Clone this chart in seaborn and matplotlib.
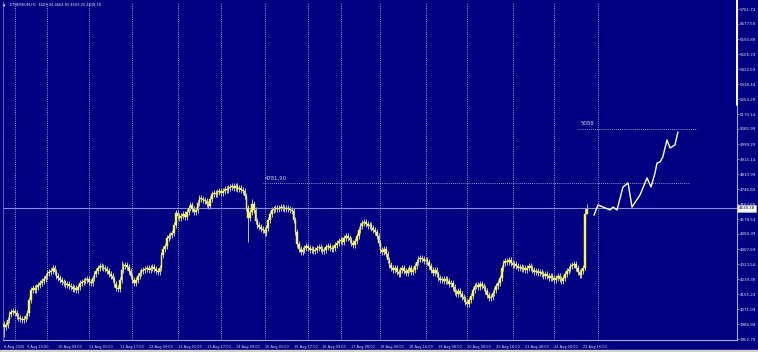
import numpy as np
import pandas as pd
import matplotlib
matplotlib.use("Agg")
import matplotlib.pyplot as plt
import matplotlib.transforms as mtransforms
from matplotlib.patches import Rectangle
import seaborn as sns

# ---------------- data ----------------
title_text = "ETHEREUM,H1  4609.94 4664.83 4609.25 4638.18"
first_open = 3990.0
closes = [
    3972, 3981, 4010, 4043, 4055, 4060, 4049, 4032, 4021, 4015,
    4010, 4015, 4032, 4049, 4123, 4179, 4190, 4179, 4196, 4207,
    4218, 4229, 4241, 4257, 4275, 4280, 4286, 4303, 4280, 4257,
    4246, 4235, 4224, 4218, 4207, 4212, 4201, 4196, 4184, 4190,
    4179, 4196, 4218, 4224, 4229, 4235, 4241, 4224, 4218, 4246,
    4269, 4286, 4303, 4314, 4308, 4303, 4298, 4286, 4269, 4257,
    4241, 4212, 4190, 4184, 4235, 4291, 4314, 4320, 4308, 4286,
    4257, 4235, 4218, 4235, 4257, 4275, 4286, 4291, 4297, 4303,
    4291, 4303, 4308, 4297, 4286, 4280, 4303, 4376, 4410, 4427,
    4472, 4483, 4489, 4500, 4545, 4613, 4596, 4585, 4596, 4607,
    4590, 4618, 4641, 4658, 4635, 4618, 4630, 4669, 4697, 4692,
    4686, 4680, 4663, 4652, 4692, 4720, 4725, 4720, 4731, 4736,
    4725, 4737, 4748, 4742, 4753, 4759, 4765, 4753, 4765, 4748,
    4753, 4742, 4737, 4708, 4641, 4585, 4618, 4663, 4630, 4567,
    4545, 4534, 4523, 4517, 4500, 4528, 4573, 4607, 4630, 4635,
    4641, 4635, 4641, 4646, 4641, 4635, 4641, 4635, 4630, 4624,
    4573, 4506, 4438, 4410, 4393, 4404, 4415, 4427, 4415, 4404,
    4410, 4399, 4404, 4415, 4421, 4410, 4399, 4404, 4421, 4427,
    4415, 4410, 4415, 4432, 4443, 4455, 4460, 4449, 4472, 4483,
    4472, 4460, 4443, 4432, 4455, 4483, 4517, 4539, 4556, 4562,
    4551, 4539, 4545, 4528, 4517, 4506, 4483, 4443, 4404, 4393,
    4410, 4382, 4348, 4320, 4303, 4291, 4303, 4280, 4269, 4291,
    4303, 4286, 4275, 4291, 4303, 4280, 4291, 4314, 4337, 4354,
    4359, 4354, 4342, 4348, 4337, 4314, 4291, 4275, 4291, 4269,
    4246, 4235, 4241, 4229, 4241, 4229, 4212, 4218, 4196, 4168,
    4156, 4173, 4156, 4140, 4128, 4111, 4100, 4123, 4145, 4179,
    4201, 4207, 4196, 4212, 4201, 4190, 4173, 4151, 4134, 4140,
    4162, 4179, 4201, 4218, 4246, 4303, 4331, 4342, 4337, 4348,
    4331, 4320, 4325, 4314, 4303, 4308, 4297, 4303, 4291, 4303,
    4314, 4303, 4291, 4280, 4286, 4275, 4280, 4269, 4257, 4269,
    4257, 4246, 4257, 4246, 4235, 4246, 4257, 4241, 4229, 4246,
    4269, 4286, 4297, 4314, 4320, 4325, 4303, 4280, 4263, 4286,
    4303, 4609.94, 4638.18,
]
typical_wick = 17  # usual hourly shadow length
wick_bars = [0, 65, 135, 137, 155, 321, 322]
wick_lows = [3914, 4290, 4449, 4600, 4630, 4290, 4609.25]
wick_highs = [3995, 4345, 4640, 4690, 4660, 4640, 4664.83]

forecast_x = [326.0, 328.2, 331.0, 334.9, 336.5, 338.7, 342.0, 344.8, 347.0,
              351.4, 355.3, 357.5, 359.7, 360.8, 362.5, 364.0, 366.3, 368.0,
              370.7, 372.4]
forecast_y = [4600, 4658, 4646, 4630, 4646, 4630, 4759, 4782, 4646,
              4714, 4810, 4759, 4838, 4894, 4900, 4928, 5024, 4979,
              4996, 5069]

price_ticks = [5761.74, 5677.59, 5590.89, 5506.74, 5422.59, 5338.44, 5254.29,
               5170.14, 5085.99, 4999.29, 4915.14, 4830.99, 4746.84, 4662.69,
               4578.54, 4494.39, 4407.69, 4323.54, 4239.39, 4155.24, 4071.09,
               3986.94, 3902.79]
time_labels = ["8 Aug 2025", "9 Aug 16:00", "10 Aug 09:00", "11 Aug 01:00",
               "11 Aug 17:00", "12 Aug 09:00", "13 Aug 01:00", "13 Aug 17:00",
               "14 Aug 09:00", "15 Aug 01:00", "15 Aug 17:00", "16 Aug 09:00",
               "17 Aug 08:00", "18 Aug 00:00", "18 Aug 16:00", "19 Aug 08:00",
               "20 Aug 00:00", "20 Aug 16:00", "21 Aug 08:00", "22 Aug 00:00",
               "22 Aug 16:00"]
time_label_bars = [0, 13, 30, 47, 64, 80, 96, 112, 128, 144, 160, 176, 192,
                   208, 224, 240, 256, 272, 288, 304, 320]
day_bars = [6, 24, 47, 71, 96, 120, 144, 168, 186, 208, 233, 256, 281, 304, 328]

last_price = 4638.18
level_a, level_a_text, level_a_span = 4781.90, "4781,90", (143, 379)
level_b, level_b_text, level_b_span = 5088.0, "5088", (317, 383)

# ---------------- build table ----------------
opens = [first_open] + closes[:-1]
df = pd.DataFrame({"bar": np.arange(len(closes)), "open": opens, "close": closes})
df["high"] = df[["open", "close"]].max(axis=1) + typical_wick
df["low"] = df[["open", "close"]].min(axis=1) - typical_wick
for b, lo, hi in zip(wick_bars, wick_lows, wick_highs):
    df.loc[b, "low"] = lo if b >= 321 else min(df.loc[b, "low"], lo)
    df.loc[b, "high"] = hi if b >= 321 else max(df.loc[b, "high"], hi)
df["up"] = df["close"] >= df["open"]

# ---------------- style ----------------
BG = "#000080"
AX = "#A8A8D0"
TXT = "#E0E0F0"
sns.set_style("dark", {"axes.facecolor": BG, "figure.facecolor": BG})
plt.rcParams["font.family"] = ["DejaVu Sans"]

fig = plt.figure(figsize=(7.58, 3.52), dpi=100)
fig.patch.set_facecolor(BG)
ax = fig.add_axes([3 / 758, 12 / 352, 734 / 758, 338 / 352])
ax.set_facecolor(BG)

ax.set_xlim(-0.5, 405)
ax.set_ylim(3897.2, 5801.2)

# day separators
for d in day_bars:
    ax.axvline(d, color="#D0D0E8", lw=0.6, ls=(0, (1, 1.6)), zorder=1)

# candles
ax.vlines(df["bar"], df["low"], df["high"], color="#C4C4B0", lw=0.7, zorder=2)
body_h = (df["close"] - df["open"]).abs().clip(lower=8)
colors = np.where(df["up"], "#FFFF40", "#F4F4A8")
ax.bar(df["bar"], body_h, bottom=df[["open", "close"]].min(axis=1) - 2,
       width=0.9, color=colors, edgecolor="#E8E860", linewidth=0.3, zorder=3)

# current price line
ax.axhline(last_price, color="#8C8CE0", lw=0.8, zorder=2)

# forecast path
sns.lineplot(x=forecast_x, y=forecast_y, ax=ax, color="white", lw=1.0,
             sort=False, zorder=4)

# level lines
ax.hlines(level_a, *level_a_span, colors="#C8C8E8", lw=0.6, ls=(0, (1, 1.5)), zorder=2)
ax.text(level_a_span[0] + 1, level_a + 12, level_a_text, color="#D0D0E8",
        fontsize=3.9, ha="left", va="bottom")
ax.hlines(level_b, *level_b_span, colors="#C8C8E8", lw=0.6, ls=(0, (1, 1.5)), zorder=2)
ax.text(level_b_span[0] + 1.5, level_b + 12, level_b_text, color="#D0D0E8",
        fontsize=3.9, ha="left", va="bottom")

# axes
ax.spines["top"].set_visible(False)
ax.spines["right"].set_color(AX)
ax.spines["bottom"].set_color(AX)
ax.spines["left"].set_color("#6060A8")
for s in ["right", "bottom", "left"]:
    ax.spines[s].set_linewidth(0.8)
ax.grid(False)

ax.yaxis.tick_right()
ax.set_yticks(price_ticks)
ax.set_yticklabels([f"{v:.2f}" for v in price_ticks])
ax.tick_params(axis="y", colors=AX, labelcolor=TXT, labelsize=2.9, length=1.5,
               width=0.5, pad=0.6)
ax.set_xticks(time_label_bars)
ax.set_xticklabels(time_labels, ha="left")
ax.tick_params(axis="x", colors=AX, labelcolor=TXT, labelsize=2.5, length=2,
               width=0.5, pad=1.5)
ax.set_xlabel("")
ax.set_ylabel("")

# white segment on the price scale at the top
ax.plot([1.0, 1.0], [0.695, 1.01], transform=ax.transAxes, color="white",
        lw=1.4, clip_on=False, zorder=6)

# last price box
trans = mtransforms.blended_transform_factory(ax.transAxes, ax.transData)
ax.text(1.002, last_price, f"{last_price:.2f}", transform=trans, fontsize=2.9,
        color="#000060", ha="left", va="center", clip_on=False, zorder=7,
        bbox=dict(boxstyle="square,pad=0.3", fc="white", ec="#C0C0C0", lw=0.4))

# title
fig.text(3 / 758, 1 - 5.5 / 352, "\u25be", color="white", fontsize=3.5,
         ha="left", va="center")
fig.text(10 / 758, 1 - 5.5 / 352, title_text, color=TXT, fontsize=2.6,
         ha="left", va="center")

# bottom window strip
fig.patches.append(Rectangle((0, 0), 1, 2 / 352, transform=fig.transFigure,
                             color="#D4D0C8", zorder=0))

fig.savefig("out.png", dpi=100, facecolor=BG)
